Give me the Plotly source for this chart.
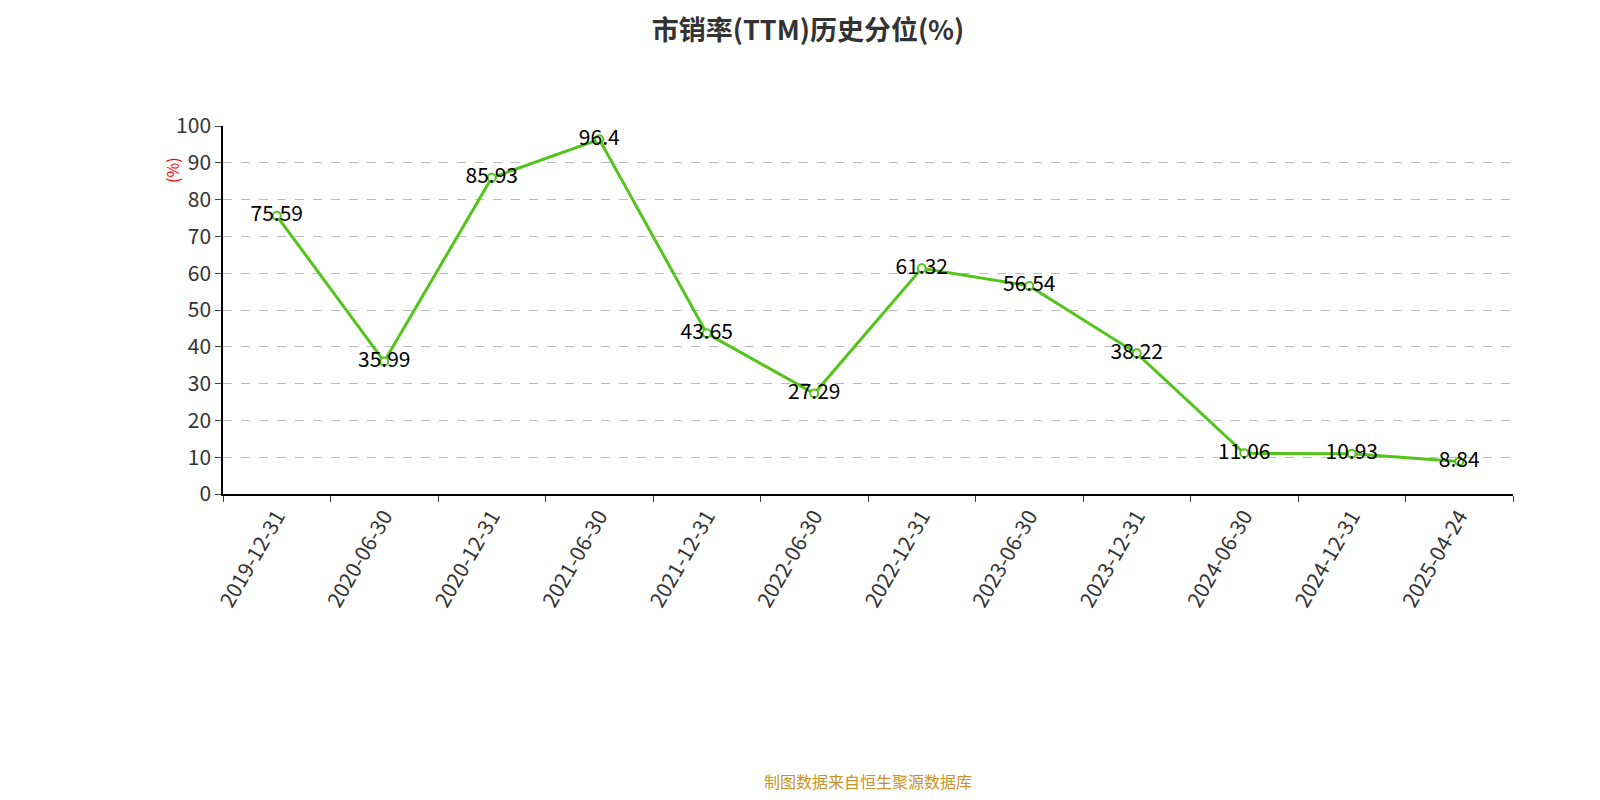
import plotly.graph_objects as go

dates = ["2019-12-31","2020-06-30","2020-12-31","2021-06-30","2021-12-31","2022-06-30",
         "2022-12-31","2023-06-30","2023-12-31","2024-06-30","2024-12-31","2025-04-24"]
values = [75.59,35.99,85.93,96.4,43.65,27.29,61.32,56.54,38.22,11.06,10.93,8.84]
labels = [str(v) for v in values]
yticks = list(range(0, 101, 10))

font = "Noto Sans CJK SC"
fig = go.Figure(go.Scatter(
    x=dates, y=values, mode="lines+markers+text", text=labels,
    textposition="middle center", textfont=dict(size=21, color="#000", family=font),
    line=dict(color="#52c41a", width=3),
    marker=dict(size=8, color="white", line=dict(color="#52c41a", width=2)),
    cliponaxis=False))
fig.update_layout(
    width=1600, height=800, plot_bgcolor="white", paper_bgcolor="white",
    margin=dict(l=215, r=95, t=118, b=314), showlegend=False,
    font=dict(family=font),
    title=dict(text="<b>市销率(TTM)历史分位(%)</b>", x=0.5, y=0.972, xanchor="center",
               yanchor="middle", font=dict(size=27, color="#333")),
    annotations=[
        dict(text="(%)", x=-0.05, y=0.92, xref="paper", yref="paper", showarrow=False,
             textangle=-90, font=dict(size=16, color="red")),
        dict(text="制图数据来自恒生聚源数据库", x=0.5, y=-0.78, xref="paper", yref="paper",
             yanchor="middle", showarrow=False, font=dict(size=16, color="#c8922a")),
    ])
fig.update_xaxes(type="category", range=[-0.5, 11.5], tickson="boundaries",
                 ticks="outside", ticklen=6, tickangle=-60, showline=True,
                 linecolor="#000", linewidth=1.5, showgrid=False,
                 tickfont=dict(size=21, color="#333"))
fig.update_yaxes(range=[0, 100], tickvals=yticks, ticks="outside", ticklen=6,
                 showline=True, linecolor="#000", linewidth=1.5,
                 gridcolor="#bbb", griddash="dash", zeroline=False,
                 tickfont=dict(size=21, color="#333"))
fig.write_html("out.html")
